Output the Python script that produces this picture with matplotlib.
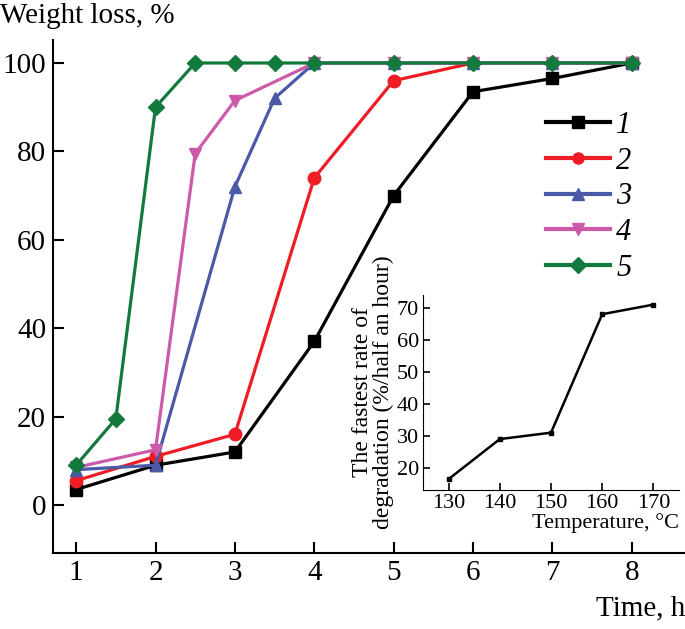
import numpy as np
import matplotlib.pyplot as plt

plt.rcParams['font.family'] = ['Liberation Serif', 'DejaVu Serif']

# main curves: weight loss vs time
t1 = [1, 2, 3, 4, 5, 6, 7, 8]
w1 = [3.5, 9, 12, 37, 70, 93.5, 96.5, 100]
t2 = [1, 2, 3, 4, 5, 6, 7, 8]
w2 = [5.5, 11, 16, 74, 96, 100, 100, 100]
t3 = [1, 2, 3, 3.5, 4, 5, 6, 7, 8]
w3 = [8, 9, 72, 92, 100, 100, 100, 100, 100]
t4 = [1, 2, 2.5, 3, 4, 5, 6, 7, 8]
w4 = [8.5, 12.5, 79.5, 91.5, 100, 100, 100, 100, 100]
t5 = [1, 1.5, 2, 2.5, 3, 3.5, 4, 5, 6, 7, 8]
w5 = [9, 19.5, 90, 100, 100, 100, 100, 100, 100, 100, 100]

# inset: fastest rate vs temperature
temp = [130, 140, 150, 160, 170]
rate = [16.5, 29, 31, 68, 71]

series = [
    (t1, w1, 'black', 's', '1'),
    (t2, w2, '#ee1c24', 'o', '2'),
    (t3, w3, '#4a5aa8', '^', '3'),
    (t4, w4, '#cc5aaa', 'v', '4'),
    (t5, w5, '#137a3e', 'D', '5'),
]

fig = plt.figure(figsize=(6.85, 6.29), dpi=100)
ax = fig.add_axes([0.0774, 0.1208, 0.9226, 0.8156])

for t, w, c, m, lab in series:
    ms = 8 if m == 'D' else 9
    ax.plot(t, w, color=c, marker=m, markersize=ms, linewidth=2.3, label=lab)

ax.set_xlim(0.709, 8.67)
ax.set_ylim(-10.86, 105.2)
ax.set_xticks(range(1, 9))
ax.set_yticks([0, 20, 40, 60, 80, 100])
for s in ['top', 'right']:
    ax.spines[s].set_visible(False)
for s in ['left', 'bottom']:
    ax.spines[s].set_linewidth(1.5)
ax.tick_params(direction='in', length=8, width=1.5, labelsize=21, pad=5)

leg = ax.legend(loc='upper left', bbox_to_anchor=(546 / 685, 1 - 111 / 629),
                bbox_transform=fig.transFigure, frameon=False, borderaxespad=0,
                borderpad=0, handlelength=2.1, handletextpad=0.2, labelspacing=0.22,
                prop={'size': 22, 'style': 'italic'})
for h in leg.legend_handles:
    h.set_linewidth(3)
    h.set_markersize(8)

fig.text(0.0, 1 - 16 / 629, 'Weight loss, %', fontsize=21, ha='left', va='center')
fig.text(1.0, 1 - 608 / 629, 'Time, h', fontsize=21, ha='right', va='center')

# inset
ins = fig.add_axes([423 / 685, 1 - 490 / 629, (679 - 423) / 685, (490 - 295) / 629])
ins.plot(temp, rate, color='black', marker='s', markersize=3, linewidth=1.8)
ins.set_xlim(125, 175)
ins.set_ylim(13.1, 74)
ins.set_xticks(temp)
ins.set_yticks([20, 30, 40, 50, 60, 70])
for s in ['top', 'right']:
    ins.spines[s].set_visible(False)
ins.patch.set_alpha(0)
ins.tick_params(direction='in', length=5, width=1.2, labelsize=16, pad=3)
ins.set_xlabel('Temperature, °C', fontsize=16, labelpad=0, loc='right')
ins.set_ylabel('The fastest rate of\ndegradation (%/half an hour)', fontsize=17,
               labelpad=2, linespacing=0.95)

fig.savefig('out.png', dpi=100)
